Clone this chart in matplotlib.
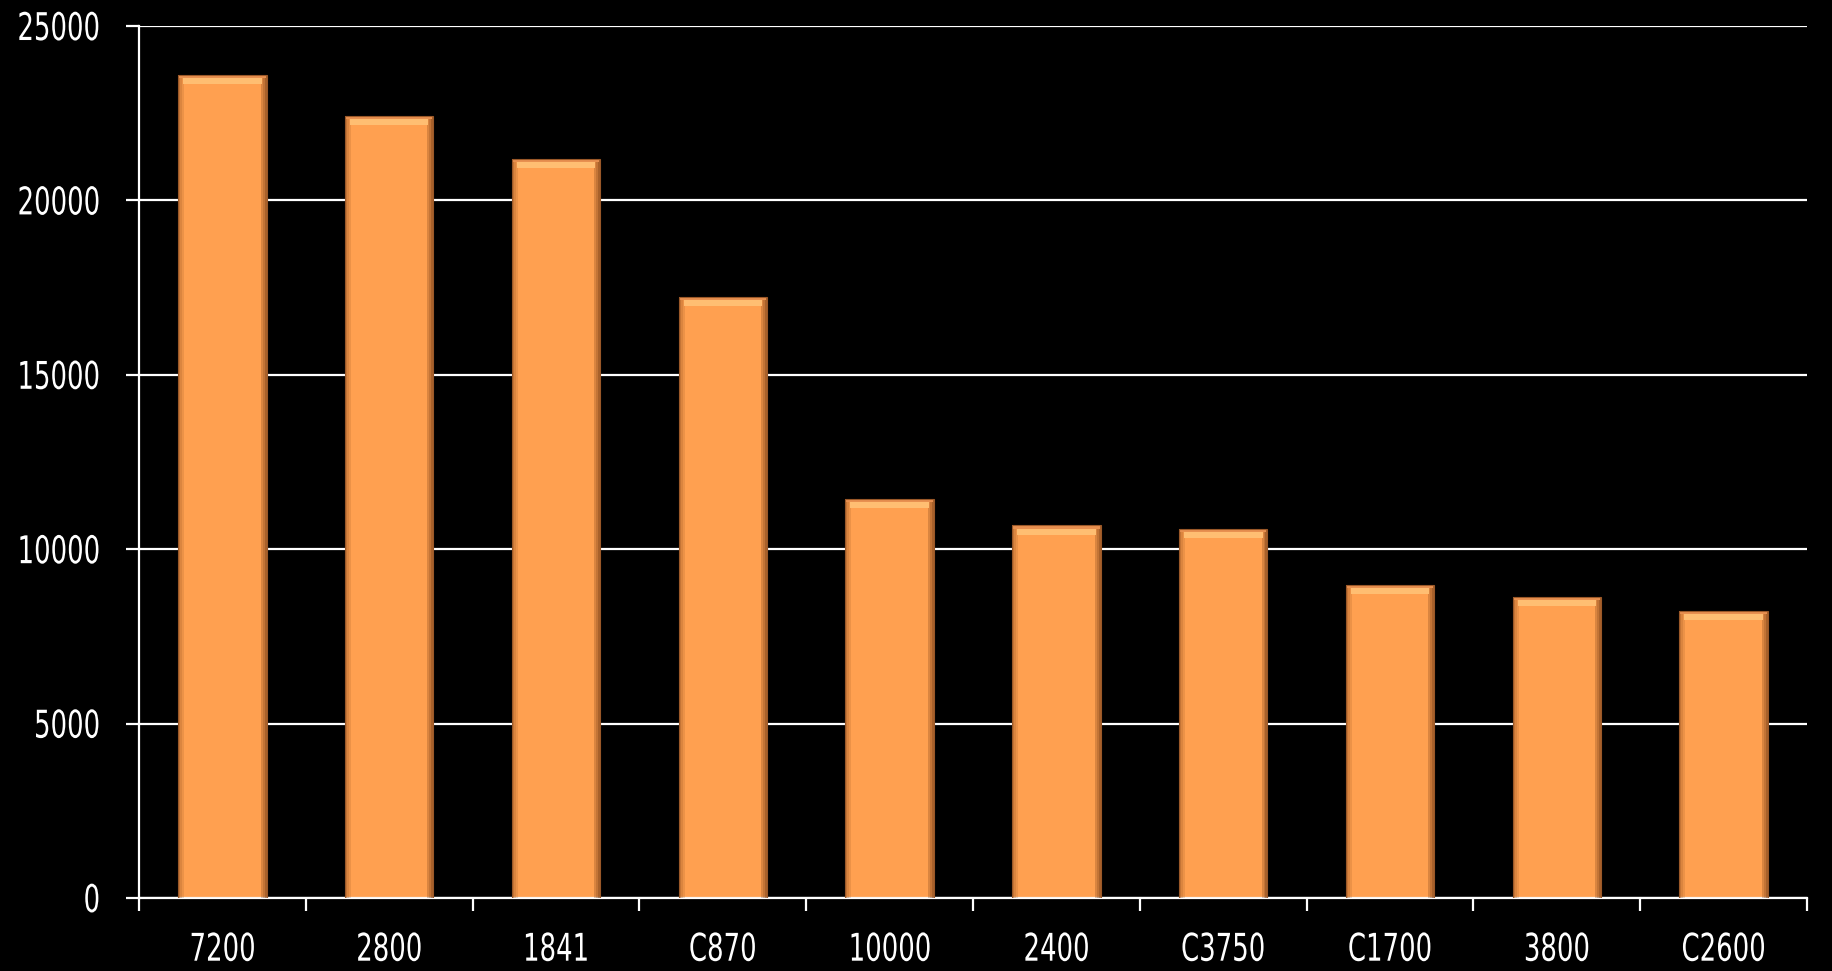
"""Bar chart: totals per item, dark background with bevelled orange bars"""

import matplotlib
matplotlib.use("Agg")
import matplotlib.pyplot as plt
from matplotlib import patheffects
from matplotlib.transforms import Affine2D
import numpy as np

# data
labels = ["7200", "2800", "1841", "C870", "10000", "2400", "C3750", "C1700", "3800", "C2600"]
values = [23600, 22420, 21200, 17230, 11450, 10680, 10580, 8980, 8640, 8240]
y_ticks = [0, 5000, 10000, 15000, 20000, 25000]

BAR = "#FFA050"
BAR_EDGE = "#9A5828"
TOP = "#FFBE72"


class Squeeze(patheffects.AbstractPathEffect):
    """Draw text narrower (no condensed font installed)"""

    def __init__(self, sx, frac):
        super().__init__()
        self.sx = sx
        self.frac = frac  # 0 = keep left edge, 0.5 = centre, 1 = right edge

    def draw_path(self, renderer, gc, tpath, affine, rgbFace=None):
        ext = tpath.get_extents()
        a = ext.x0 + self.frac * ext.width
        squeeze = Affine2D().translate(-a, 0).scale(self.sx, 1).translate(a, 0)
        renderer.draw_path(gc, tpath, squeeze + affine, rgbFace)


plt.rcParams["font.family"] = ["DejaVu Sans"]

fig = plt.figure(figsize=(18.32, 9.71), dpi=100, facecolor="black")
ax = fig.add_axes([0.0759, 0.0752, 0.9105, 0.898])
ax.set_facecolor("black")

x = np.arange(len(labels))
vals = np.array(values, dtype=float)
width = 0.53
px = width / 89.0  # one pixel in data units along x

ax.yaxis.grid(True, color="white", linewidth=1.6, zorder=0)
ax.set_axisbelow(True)

# main bar
ax.bar(x, vals, width=width, color=BAR, linewidth=0, zorder=2)

# darker sides, drawn as thin strips for a soft gradient
for i, a in enumerate([0.55, 0.35, 0.18]):
    ax.bar(x - width / 2 + (i + 0.5) * 2 * px, vals, width=2 * px,
           color="#9A5522", alpha=a, linewidth=0, zorder=3)
    ax.bar(x + width / 2 - (i + 0.5) * 2 * px, vals, width=2 * px,
           color="#7A4018", alpha=a + 0.1, linewidth=0, zorder=3)

# light top bevel
top_h = 260
ax.bar(x, np.full_like(vals, top_h), bottom=vals - top_h, width=width - 10 * px,
       color=TOP, linewidth=0, zorder=4)
ax.bar(x, np.full_like(vals, 90), bottom=vals - 90, width=width - 2 * px,
       color="#E89050", linewidth=0, zorder=4)
ax.bar(x, vals, width=width, fill=False, edgecolor=BAR_EDGE, linewidth=0.8, zorder=5)

ax.set_xlim(-0.5, len(labels) - 0.5)
ax.set_ylim(0, 25000)
ax.set_yticks(y_ticks)
ax.set_yticklabels([str(v) for v in y_ticks])

ax.set_xticks(x)
ax.set_xticklabels(labels)
ax.set_xticks(np.arange(-0.5, len(labels), 1.0), minor=True)

for side in ["top", "right"]:
    ax.spines[side].set_visible(False)
for side in ["left", "bottom"]:
    ax.spines[side].set_color("white")
    ax.spines[side].set_linewidth(1.6)

ax.tick_params(axis="y", colors="white", length=9.5, width=1.6, pad=18,
               labelsize=27.5)
ax.tick_params(axis="x", which="major", length=0, pad=25, colors="white", labelsize=27.5)
ax.tick_params(axis="x", which="minor", length=9.5, width=1.6, color="white")

for lab in ax.get_yticklabels():
    lab.set_path_effects([Squeeze(0.68, 1.0)])
for lab in ax.get_xticklabels():
    lab.set_path_effects([Squeeze(0.68, 0.5)])

fig.savefig("out.png", dpi=100, facecolor="black")
